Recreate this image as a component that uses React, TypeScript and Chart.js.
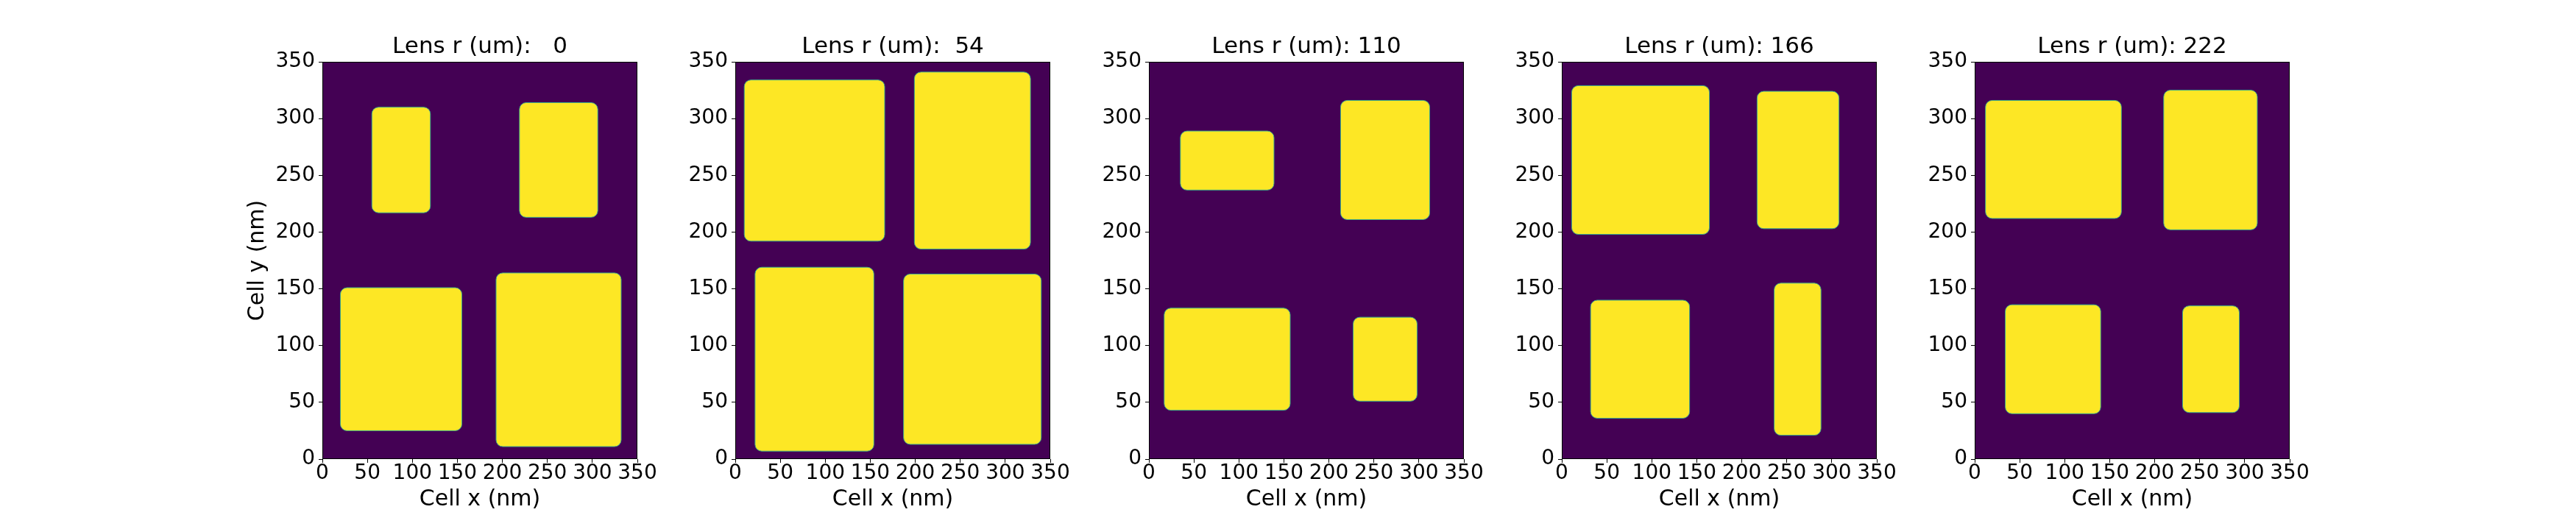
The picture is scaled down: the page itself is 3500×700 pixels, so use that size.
import { useEffect, useRef } from 'react'
import { Chart, registerables } from 'chart.js'

Chart.register(...registerables)
Chart.defaults.font.family = "'DejaVu Sans', sans-serif"

// lens radius of each panel (um)
const lensRadii = [0, 54, 110, 166, 222]

// cells per panel as [x0, x1, y0, y1] in nm
const cellsLens0 = [
  [55, 120, 217, 310],
  [219, 306, 213, 314],
  [20, 155, 25, 151],
  [193, 332, 11, 164],
]
const cellsLens54 = [
  [10, 166, 192, 334],
  [199, 328, 185, 341],
  [22, 154, 7, 169],
  [187, 340, 13, 163],
]
const cellsLens110 = [
  [35, 139, 237, 289],
  [213, 312, 211, 316],
  [17, 157, 43, 133],
  [227, 298, 51, 125],
]
const cellsLens166 = [
  [11, 164, 198, 329],
  [217, 308, 203, 324],
  [32, 142, 36, 140],
  [236, 288, 21, 155],
]
const cellsLens222 = [
  [12, 163, 212, 316],
  [210, 314, 202, 325],
  [34, 140, 40, 136],
  [231, 294, 41, 135],
]
const panelCells = [cellsLens0, cellsLens54, cellsLens110, cellsLens166, cellsLens222]

const axisTicks = [0, 50, 100, 150, 200, 250, 300, 350]

const PLOT_LEFTS = [438, 999, 1561, 2122, 2683]
const PLOT_W = 428
const AXIS_W = 130
const BG = '#440154'
const CELL = '#fde725'
const EDGE = '#3aaa8a'

const cellsPlugin = {
  id: 'cells',
  beforeDatasetsDraw(chart: any) {
    const { ctx, chartArea: a, scales } = chart
    ctx.save()
    ctx.fillStyle = BG
    ctx.fillRect(a.left, a.top, a.right - a.left, a.bottom - a.top)
    ctx.beginPath()
    ctx.rect(a.left, a.top, a.right - a.left, a.bottom - a.top)
    ctx.clip()
    for (const c of chart.data.datasets[0].data) {
      const l = scales.x.getPixelForValue(c.x)
      const r = scales.x.getPixelForValue(c.x1)
      const b = scales.y.getPixelForValue(c.y)
      const t = scales.y.getPixelForValue(c.y1)
      ctx.beginPath()
      ctx.roundRect(l, t, r - l, b - t, 9)
      ctx.fillStyle = CELL
      ctx.fill()
      ctx.lineWidth = 1
      ctx.strokeStyle = EDGE
      ctx.stroke()
    }
    ctx.restore()
  },
  afterDatasetsDraw(chart: any) {
    const { ctx, chartArea: a } = chart
    ctx.save()
    ctx.strokeStyle = '#000'
    ctx.lineWidth = 1
    ctx.strokeRect(a.left + 0.5, a.top + 0.5, a.right - a.left - 1, a.bottom - a.top - 1)
    ctx.restore()
  },
}

function Panel({ index }: { index: number }) {
  const canvasRef = useRef<HTMLCanvasElement>(null)

  useEffect(() => {
    if (!canvasRef.current) return
    const tickFont = { size: 28 }
    const labelFont = { size: 30 }
    const chart = new Chart(canvasRef.current, {
      type: 'scatter',
      data: {
        datasets: [{
          label: 'cells',
          data: panelCells[index].map(([x0, x1, y0, y1]) => ({ x: x0, y: y0, x1, y1 })) as any,
          pointRadius: 0,
          showLine: false,
        }],
      },
      options: {
        animation: false,
        responsive: false,
        events: [],
        layout: { padding: { left: 0, right: AXIS_W, top: 0, bottom: 0 } },
        plugins: {
          legend: { display: false },
          tooltip: { enabled: false },
          title: {
            display: true,
            fullSize: false,
            text: `Lens r (um): ${String(lensRadii[index]).padStart(3, ' ')}`,
            color: '#000',
            font: { size: 31, weight: 'normal' },
            padding: { top: 45.7, bottom: 1.1 },
          },
        },
        scales: {
          x: {
            type: 'linear',
            min: 0,
            max: 350,
            afterBuildTicks: (s: any) => { s.ticks = axisTicks.map(v => ({ value: v })) },
            afterFit: (s: any) => { s.height = 76 },
            grid: { drawOnChartArea: false, drawTicks: true, tickLength: 5, color: '#000' },
            border: { display: false },
            ticks: { color: '#000', font: tickFont, padding: -2, maxRotation: 0, autoSkip: false },
            title: { display: true, text: 'Cell x (nm)', color: '#000', font: labelFont, padding: { top: 0, bottom: 2.4 } },
          },
          y: {
            type: 'linear',
            min: 0,
            max: 350,
            afterBuildTicks: (s: any) => { s.ticks = axisTicks.map(v => ({ value: v })) },
            afterFit: (s: any) => { s.width = AXIS_W },
            grid: { drawOnChartArea: false, drawTicks: true, tickLength: 5, color: '#000' },
            border: { display: false },
            ticks: { color: '#000', font: tickFont, padding: 5, autoSkip: false },
            title: { display: index === 0, text: 'Cell y (nm)', color: '#000', font: labelFont, padding: { top: 24.6, bottom: 0 } },
          },
        },
      },
      plugins: [cellsPlugin],
    })
    return () => chart.destroy()
  }, [index])

  return (
    <canvas
      ref={canvasRef}
      width={AXIS_W * 2 + PLOT_W}
      height={700}
      style={{ position: 'absolute', left: PLOT_LEFTS[index] - AXIS_W, top: 0 }}
    />
  )
}

export default function App() {
  return (
    <div style={{ position: 'absolute', left: 0, top: 0, width: 3500, height: 700, background: '#fff' }}>
      {lensRadii.map((_, i) => <Panel key={i} index={i} />)}
    </div>
  )
}
